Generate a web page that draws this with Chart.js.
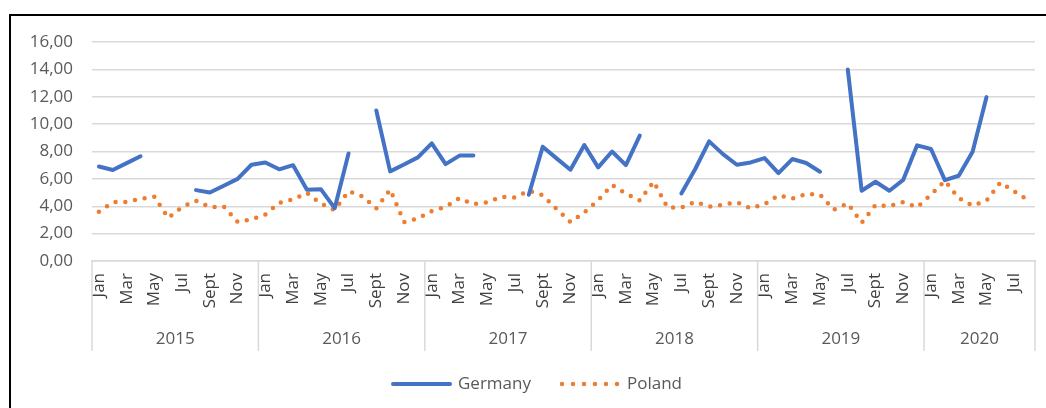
<!DOCTYPE html>
<html><head><meta charset="utf-8">
<script src="https://cdn.jsdelivr.net/npm/chart.js@4.4.1/dist/chart.umd.min.js"></script>
<style>
html,body{margin:0;padding:0;background:#fff;overflow:hidden;width:1046px;height:408px}
#frame{position:absolute;left:9px;top:14px;width:1200px;height:600px;border:2px solid #000;box-sizing:border-box}
#wrap{position:absolute;left:0;top:0;width:1046px;height:408px}
</style></head><body>
<div id="frame"></div>
<div id="wrap"><canvas id="c" width="1046" height="408"></canvas></div>
<script>
const years = ['2015', '2016', '2017', '2018', '2019', '2020'];
const monthsPerYear = [12, 12, 12, 12, 12, 8];
const monthNames = ['Jan', 'Feb', 'Mar', 'Apr', 'May', 'Jun', 'Jul', 'Aug', 'Sept', 'Oct', 'Nov', 'Dec'];
const seriesNames = ['Germany', 'Poland'];

const germany = [
  6.9, 6.65, 7.15, 7.65, null, null, null, 5.18, 5.0, 5.5, 6.0, 7.03,
  7.2, 6.7, 7.0, 5.2, 5.25, 3.86, 7.86, null, 11.0, 6.55, 7.05, 7.57,
  8.6, 7.08, 7.7, 7.7, null, null, null, 4.84, 8.35, 7.5, 6.67, 8.47,
  6.84, 8.0, 7.0, 9.16, null, null, 4.93, 6.72, 8.74, 7.81, 7.03, 7.2,
  7.52, 6.42, 7.45, 7.16, 6.52, null, 13.99, 5.13, 5.79, 5.13, 5.93, 8.45,
  8.18, 5.91, 6.23, 7.99, 11.97, null, null, null
];
const poland = [
  3.6, 4.3, 4.32, 4.55, 4.7, 3.15, 3.95, 4.4, 3.93, 3.98, 2.85, 3.05,
  3.4, 4.25, 4.5, 4.98, 4.2, 3.72, 5.1, 4.72, 3.85, 5.22, 2.85, 3.1,
  3.65, 3.95, 4.59, 4.15, 4.28, 4.68, 4.64, 5.13, 4.8, 3.8, 2.84, 3.55,
  4.45, 5.55, 4.93, 4.42, 5.8, 3.9, 3.9, 4.32, 3.97, 4.1, 4.3, 3.85,
  4.15, 4.8, 4.56, 4.9, 4.85, 3.75, 4.2, 2.8, 4.1, 4.0, 4.3, 3.93,
  4.84, 5.86, 4.6, 4.05, 4.4, 5.74, 5.1, 4.45
];

const yMin = 0, yMax = 16, yStep = 2;

const labels = [];
years.forEach((y, i) => { for (let m = 0; m < monthsPerYear[i]; m++) labels.push(monthNames[m]); });

const FONT = "'Open Sans', 'Liberation Sans', sans-serif";
const BLUE = '#4472C4', ORANGE = '#ED7D31';

const groupPlugin = {
  id: 'yearGroups',
  afterDraw(chart) {
    const x = chart.scales.x, ctx = chart.ctx, top = x.top;
    ctx.save();
    ctx.strokeStyle = '#d9d9d9';
    ctx.lineWidth = 1.5;
    ctx.fillStyle = '#595959';
    ctx.font = "17px " + FONT;
    ctx.textAlign = 'center';
    ctx.textBaseline = 'middle';
    let start = 0;
    years.forEach((y, i) => {
      const end = start + monthsPerYear[i];
      const xl = x.getPixelForValue(start - 0.5), xr = x.getPixelForValue(end - 0.5);
      ctx.beginPath(); ctx.moveTo(xl, top); ctx.lineTo(xl, top + 90); ctx.stroke();
      if (i === years.length - 1) { ctx.beginPath(); ctx.moveTo(xr, top); ctx.lineTo(xr, top + 90); ctx.stroke(); }
      ctx.fillText(y, (xl + xr) / 2, top + 78);
      start = end;
    });
    // legend
    const ly = 384;
    let lx = 391;
    ctx.textAlign = 'left';
    chart.data.datasets.forEach((ds, i) => {
      ctx.save();
      ctx.strokeStyle = ds.borderColor;
      ctx.lineWidth = ds.borderWidth;
      ctx.lineCap = 'round';
      ctx.setLineDash(ds.borderDash ? [0, 11] : []);
      ctx.beginPath(); ctx.moveTo(lx + 2, ly); ctx.lineTo(lx + 59, ly); ctx.stroke();
      ctx.restore();
      ctx.fillStyle = '#595959';
      ctx.fillText(ds.label, lx + 67, ly);
      lx += 67 + ctx.measureText(ds.label).width + 29;
    });
    ctx.restore();
  }
};

new Chart(document.getElementById('c'), {
  type: 'line',
  data: {
    labels: labels,
    datasets: [
      { label: seriesNames[0], data: germany, borderColor: BLUE, backgroundColor: BLUE, borderWidth: 4,
        pointRadius: 0, tension: 0, spanGaps: false, borderCapStyle: 'round', borderJoinStyle: 'round' },
      { label: seriesNames[1], data: poland, borderColor: ORANGE, backgroundColor: ORANGE, borderWidth: 4.5,
        pointRadius: 0, tension: 0, borderDash: [0, 9.8], borderCapStyle: 'round', borderJoinStyle: 'round' }
    ]
  },
  options: {
    responsive: false,
    animation: false,
    devicePixelRatio: 1,
    layout: { padding: { left: 0, top: 42, right: 11, bottom: 0 } },
    plugins: { legend: { display: false }, tooltip: { enabled: false } },
    scales: {
      x: {
        type: 'category',
        offset: true,
        grid: { display: false, drawTicks: false },
        border: { display: true, color: '#d9d9d9', width: 1.5 },
        ticks: {
          autoSkip: false, minRotation: 90, maxRotation: 90, padding: 12,
          color: '#404040', font: { family: FONT, size: 17 },
          callback: (v, i) => (i % 2 === 0 ? labels[i] : '')
        },
        afterFit: s => { s.height = 147; s.paddingLeft = 0; s.paddingRight = 0; }
      },
      y: {
        min: yMin, max: yMax,
        ticks: { stepSize: yStep, padding: 19, color: '#595959', font: { family: FONT, size: 17 },
          callback: v => v.toFixed(2).replace('.', ',') },
        grid: { color: '#d9d9d9', lineWidth: 1.5, drawTicks: false },
        border: { display: false },
        afterFit: s => { s.width = 92; s.paddingTop = 0; s.paddingBottom = 0; }
      }
    }
  },
  plugins: [groupPlugin]
});
</script>
</body></html>
